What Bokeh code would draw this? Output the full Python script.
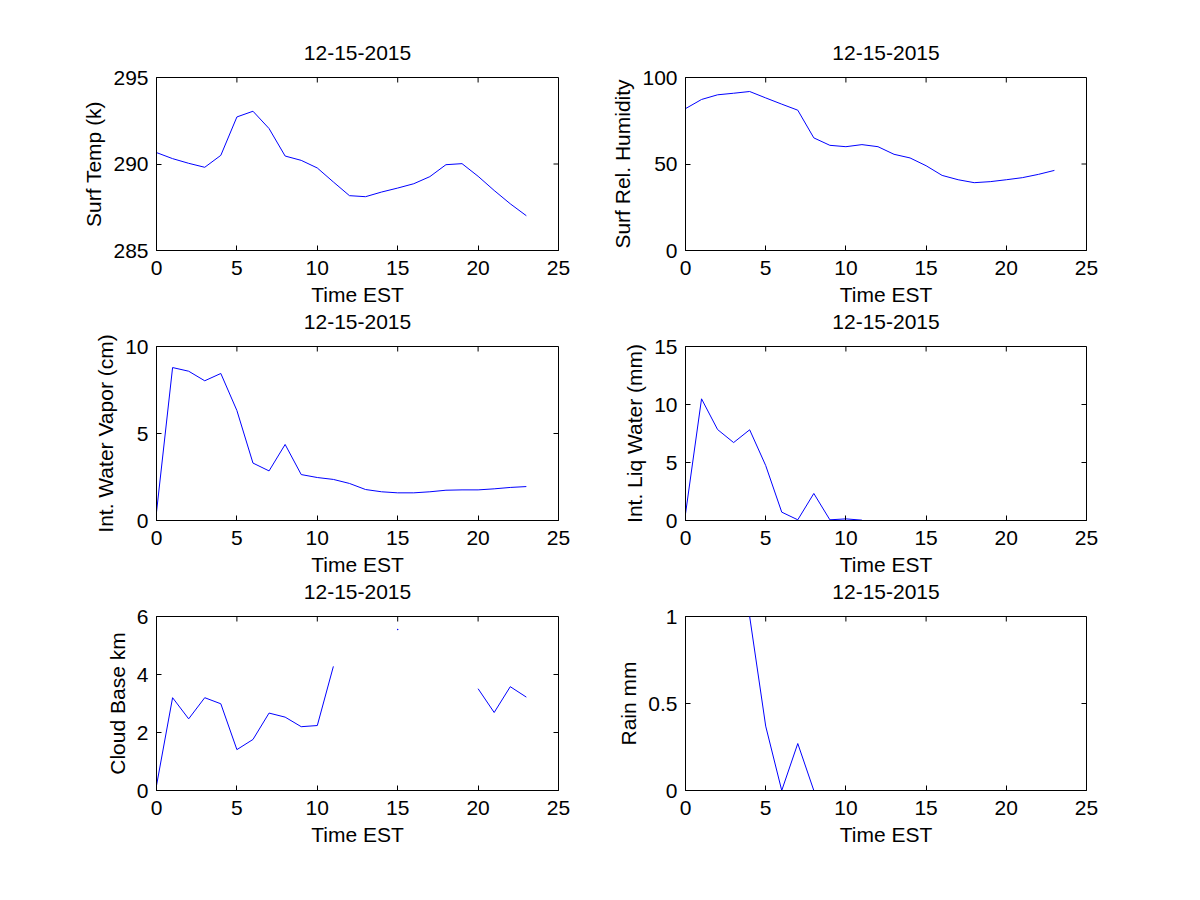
from math import pi
from bokeh.plotting import figure
from bokeh.layouts import column, row
from bokeh.models import FixedTicker, Range1d, LinearAxis
from bokeh.embed import file_html
from bokeh.resources import INLINE

nan = float("nan")

hours = list(range(24))
date_title = "12-15-2015"
x_label = "Time EST"
x_ticks = [0, 5, 10, 15, 20, 25]
x_limits = (0, 25)

surf_temp = [290.66, 290.31, 290.04, 289.81, 290.50, 292.72, 293.05, 292.05,
             290.46, 290.21, 289.77, 288.96, 288.17, 288.11, 288.38, 288.61,
             288.86, 289.27, 289.96, 290.02, 289.29, 288.47, 287.70, 287.01]
rel_humidity = [82.0, 87.3, 90.0, 90.9, 91.9, 88.2, 84.6, 81.1,
                65.1, 60.8, 60.0, 61.2, 60.0, 55.6, 53.5, 49.0,
                43.4, 40.9, 39.2, 39.8, 40.9, 42.1, 44.0, 46.3]
water_vapor = [0.48, 8.79, 8.58, 8.03, 8.45, 6.32, 3.30, 2.85,
               4.37, 2.64, 2.47, 2.36, 2.13, 1.78, 1.65, 1.59,
               1.59, 1.65, 1.74, 1.76, 1.76, 1.82, 1.90, 1.95]
liq_water = [0.57, 10.49, 7.84, 6.72, 7.82, 4.74, 0.72, 0.06,
             2.33, 0.06, 0.14, 0.03, nan, nan, nan, nan,
             nan, nan, nan, nan, nan, nan, nan, nan]
cloud_base = [0.17, 3.20, 2.47, 3.20, 2.99, 1.41, 1.76, 2.67,
              2.53, 2.20, 2.24, 4.28, nan, nan, nan, 5.55,
              nan, nan, nan, nan, 3.51, 2.69, 3.58, 3.22]
rain = [2.0, 6.5, 4.0, 3.0, 1.0, 0.37, 0.0, 0.27,
        0.0, nan, nan, nan, nan, nan, nan, nan,
        nan, nan, nan, nan, nan, nan, nan, nan]

panels = [
    (surf_temp, "Surf Temp (k)", [285, 290, 295], (285, 295)),
    (rel_humidity, "Surf Rel. Humidity", [0, 50, 100], (0, 100)),
    (water_vapor, "Int. Water Vapor (cm)", [0, 5, 10], (0, 10)),
    (liq_water, "Int. Liq Water (mm)", [0, 5, 10, 15], (0, 15)),
    (cloud_base, "Cloud Base km", [0, 2, 4, 6], (0, 6)),
    (rain, "Rain mm", [0, 0.5, 1], (0, 1)),
]

FONT = "Liberation Sans"
FS = "21px"


def isolated(xs, ys):
    px, py = [], []
    for i, v in enumerate(ys):
        if v != v:
            continue
        left = ys[i - 1] if i > 0 else nan
        right = ys[i + 1] if i < len(ys) - 1 else nan
        if left != left and right != right:
            px.append(xs[i])
            py.append(v)
    return px, py


def style_axis(ax, ticks):
    ax.ticker = FixedTicker(ticks=ticks)
    ax.minor_tick_line_color = None
    ax.major_tick_in = 5
    ax.major_tick_out = 0
    ax.axis_line_color = "black"
    ax.major_tick_line_color = "black"
    ax.major_label_text_font = FONT
    ax.major_label_text_font_size = FS
    ax.major_label_text_color = "black"
    ax.major_label_standoff = 8
    ax.axis_label_text_font = FONT
    ax.axis_label_text_font_size = FS
    ax.axis_label_text_font_style = "normal"
    ax.axis_label_text_color = "black"


def make(idx):
    ydata, ylabel, yticks, yr = panels[idx]
    col = idx % 2
    r = idx // 2
    p = figure(
        output_backend="svg", toolbar_location=None,
        frame_width=402 if col == 0 else 401,
        frame_height=173 if r == 0 else 174,
        x_range=Range1d(*x_limits), y_range=Range1d(*yr),
        min_border_left=156 if col == 0 else 107,
        min_border_right=20 if col == 0 else 60,
        min_border_top=77 if r == 0 else 38,
        min_border_bottom=58,
        x_axis_label=x_label, y_axis_label=ylabel,
        background_fill_color="white", border_fill_color="white",
    )
    p.grid.visible = False
    p.outline_line_color = "black"
    p.outline_line_alpha = 1.0
    style_axis(p.xaxis[0], x_ticks)
    style_axis(p.yaxis[0], yticks)
    p.xaxis[0].major_label_standoff = 10
    p.xaxis[0].axis_label_standoff = 5
    p.yaxis[0].axis_label_standoff = 5
    if idx == 5:
        p.yaxis[0].major_label_overrides = {0: "0", 0.5: "0.5", 1: "1"}
    # title: label of a tick-less axis above the box
    top = LinearAxis(axis_label=date_title)
    style_axis(top, [])
    top.axis_line_color = None
    top.major_tick_in = 0
    top.major_label_standoff = 0
    top.axis_label_standoff = 18
    p.add_layout(top, "above")
    # MATLAB-style inward ticks on the top and right edges of the box
    p.ray(x=x_ticks, y=[yr[1]] * len(x_ticks), length=5, length_units="screen",
          angle=-pi / 2, line_color="black", line_width=1)
    p.ray(x=[x_limits[1]] * len(yticks), y=yticks, length=5, length_units="screen",
          angle=pi, line_color="black", line_width=1)
    p.line(hours, ydata, line_color="#0000ff", line_width=1)
    ix, iy = isolated(hours, ydata)
    if ix:
        p.scatter(ix, iy, size=1.5, color="#0000ff", line_color=None)
    return p


figs = [make(i) for i in range(6)]
layout = column(row(figs[0], figs[1]), row(figs[2], figs[3]), row(figs[4], figs[5]))
open("out.html", "w").write(file_html(layout, INLINE))
